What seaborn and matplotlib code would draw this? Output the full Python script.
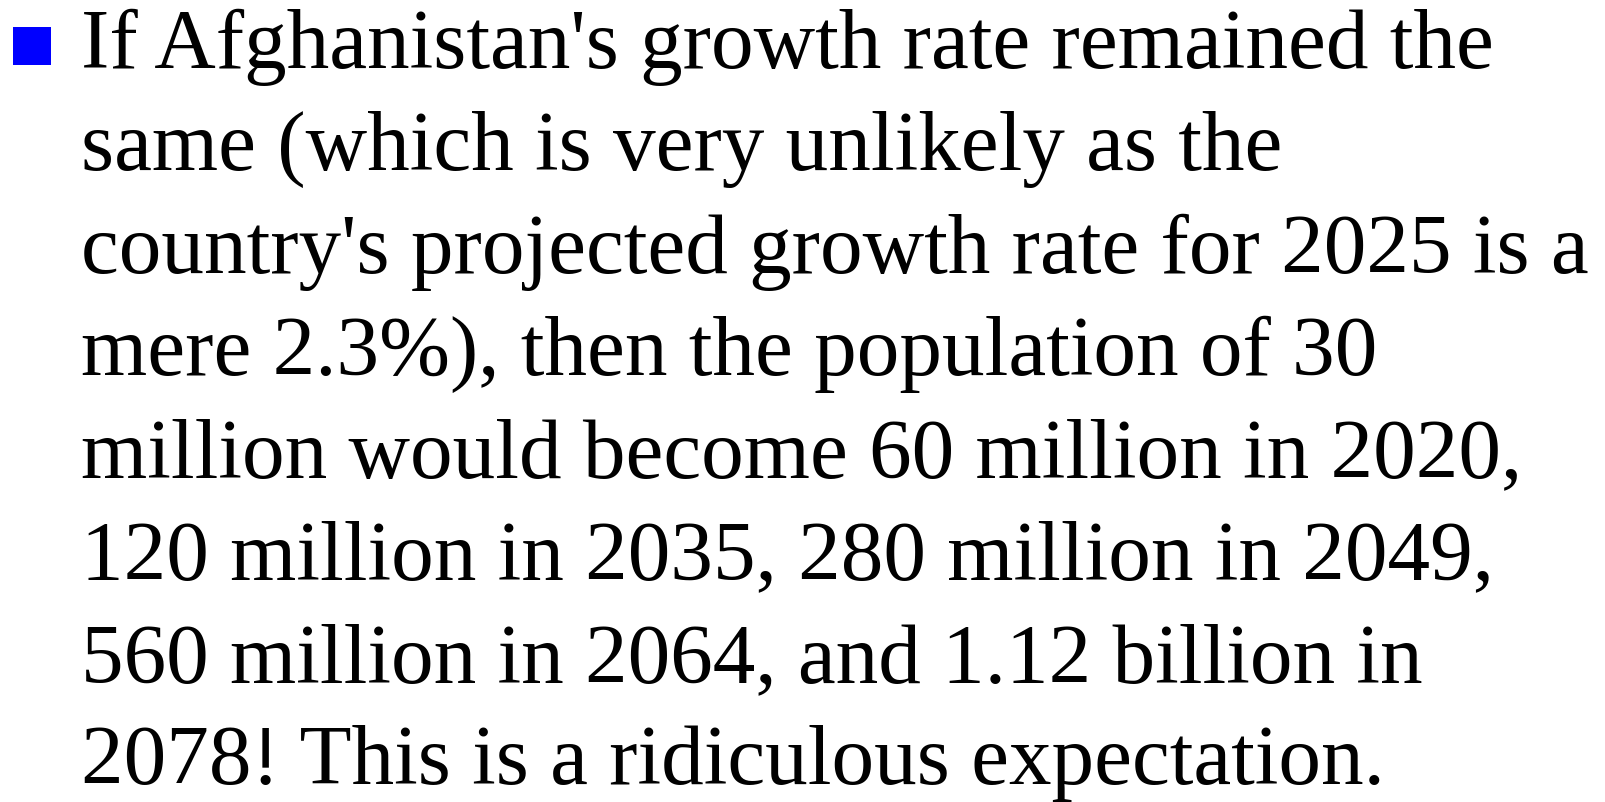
import matplotlib
matplotlib.use("Agg")
import matplotlib.pyplot as plt
from matplotlib.patches import Rectangle
import seaborn as sns

# slide text, one entry per wrapped line
lines = [
    "If Afghanistan's growth rate remained the",
    "same (which is very unlikely as the",
    "country's projected growth rate for 2025 is a",
    "mere 2.3%), then the population of 30",
    "million would become 60 million in 2020,",
    "120 million in 2035, 280 million in 2049,",
    "560 million in 2064, and 1.12 billion in",
    "2078! This is a ridiculous expectation.",
]
bullet_color = "#0000ff"

sns.set_theme(style="white")
plt.rcParams['font.family'] = ['Liberation Serif', 'DejaVu Serif']

fig = plt.figure(figsize=(16.05, 8.02), dpi=100)
ax = fig.add_axes([0, 0, 1, 1])
ax.set_xlim(0, 1605)
ax.set_ylim(802, 0)
ax.axis('off')

# bullet square
ax.add_patch(Rectangle((13, 27), 38, 38, color=bullet_color, lw=0))

y0 = 68
step = 102.3
for i, line in enumerate(lines):
    ax.text(81, y0 + i * step, line, fontsize=61.3, color='black',
            va='baseline', ha='left')

fig.savefig("out.png", dpi=100, facecolor='white')
